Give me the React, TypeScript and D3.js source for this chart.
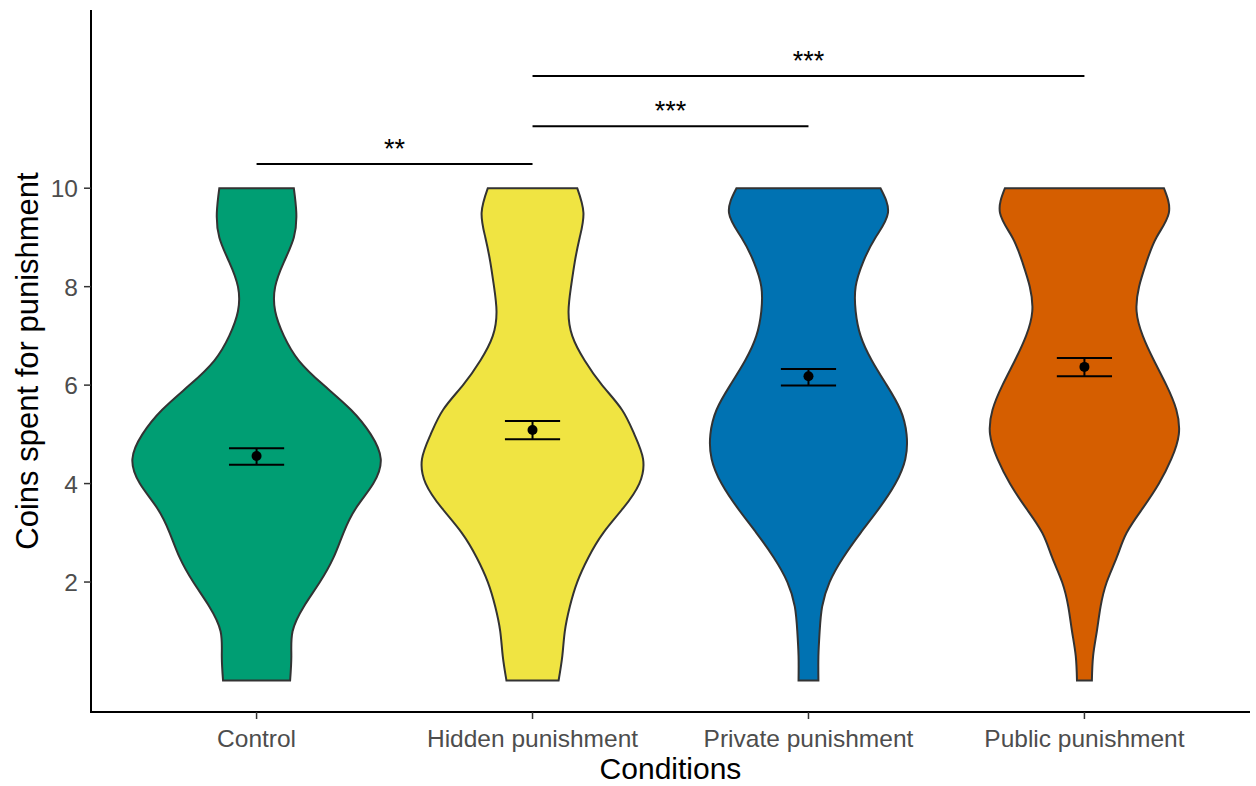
import React from "react";
import * as d3 from "d3";

// categories and fill colours
const conditions = ["Control", "Hidden punishment", "Private punishment", "Public punishment"];
const fills = ["#009E73", "#F0E442", "#0072B2", "#D55E00"];

// density grid (coins) and relative density
const densityLevels = [0, 0.5, 1, 1.5, 2, 2.5, 3, 3.5, 4, 4.5, 5, 5.5, 6, 6.5, 7, 7.5, 8, 8.5, 9, 9.5, 10];
const controlDensity = [0.27, 0.28, 0.29, 0.38, 0.51, 0.62, 0.7, 0.8, 0.94, 1.0, 0.92, 0.76, 0.54, 0.34, 0.22, 0.15, 0.15, 0.22, 0.3, 0.32, 0.3];
const hiddenDensity = [0.21, 0.24, 0.26, 0.3, 0.36, 0.45, 0.57, 0.73, 0.86, 0.89, 0.82, 0.72, 0.56, 0.42, 0.32, 0.29, 0.31, 0.34, 0.38, 0.41, 0.36];
const privateDensity = [0.08, 0.08, 0.09, 0.11, 0.17, 0.28, 0.42, 0.57, 0.7, 0.78, 0.79, 0.74, 0.63, 0.51, 0.42, 0.38, 0.38, 0.44, 0.54, 0.64, 0.58];
const publicDensity = [0.06, 0.07, 0.1, 0.13, 0.18, 0.26, 0.34, 0.47, 0.6, 0.7, 0.76, 0.74, 0.66, 0.56, 0.47, 0.42, 0.44, 0.5, 0.58, 0.68, 0.64];

// means and standard errors
const means = [4.56, 5.09, 6.18, 6.37];
const seLow = [4.38, 4.9, 5.99, 6.18];
const seHigh = [4.72, 5.27, 6.33, 6.55];

// significance brackets
const sigFrom = ["Control", "Hidden punishment", "Hidden punishment"];
const sigTo = ["Hidden punishment", "Private punishment", "Public punishment"];
const sigY = [10.49, 11.26, 12.28];
const sigLabel = ["**", "***", "***"];

const yTicks = [2, 4, 6, 8, 10];

const W = 1256;
const H = 786;
const left = 91;
const right = 1250;
const top = 10;
const bottom = 712;
const font = "'Liberation Sans', Arial, sans-serif";

export default function App() {
  const densities = [controlDensity, hiddenDensity, privateDensity, publicDensity];

  const x = d3.scaleBand().domain(conditions).range([left, right]).paddingInner(0).paddingOuter(0.1);
  const cx = (c: string) => (x(c) as number) + x.bandwidth() / 2;
  const y = d3.scaleLinear().domain([-0.64, 13.62]).range([bottom, top]);
  const w = d3.scaleLinear().domain([0, 1]).range([0, x.step() * 0.45]);
  const capHalf = x.step() * 0.1;

  return (
    <svg width={W} height={H} style={{ position: "absolute", left: 0, top: 0, background: "#fff" }}>
      {conditions.map((c, i) => {
        const pts = densityLevels.map((v, j) => ({ v, d: densities[i][j] }));
        const area = d3
          .area<{ v: number; d: number }>()
          .y((p) => y(p.v))
          .x0((p) => cx(c) - w(p.d))
          .x1((p) => cx(c) + w(p.d))
          .curve(d3.curveNatural);
        return <path key={c} d={area(pts) || ""} fill={fills[i]} stroke="#333333" strokeWidth={2} />;
      })}

      {conditions.map((c, i) => (
        <g key={"se" + c} stroke="#000" strokeWidth={2}>
          <line x1={cx(c) - capHalf} x2={cx(c) + capHalf} y1={y(seHigh[i])} y2={y(seHigh[i])} />
          <line x1={cx(c) - capHalf} x2={cx(c) + capHalf} y1={y(seLow[i])} y2={y(seLow[i])} />
          <line x1={cx(c)} x2={cx(c)} y1={y(seHigh[i])} y2={y(seLow[i])} />
          <circle cx={cx(c)} cy={y(means[i])} r={5} fill="#000" stroke="none" />
        </g>
      ))}

      {sigFrom.map((f, i) => (
        <g key={"sig" + i}>
          <line x1={cx(f)} x2={cx(sigTo[i])} y1={y(sigY[i])} y2={y(sigY[i])} stroke="#000" strokeWidth={2} />
          <text
            x={(cx(f) + cx(sigTo[i])) / 2}
            y={y(sigY[i]) - 6}
            textAnchor="middle"
            fontFamily={font}
            fontSize={27}
            fill="#000"
          >
            {sigLabel[i]}
          </text>
        </g>
      ))}

      {/* axes */}
      <line x1={left} x2={left} y1={top} y2={bottom + 1} stroke="#000" strokeWidth={2} />
      <line x1={left - 1} x2={right} y1={bottom} y2={bottom} stroke="#000" strokeWidth={2} />
      {yTicks.map((t) => (
        <g key={"yt" + t}>
          <line x1={left - 7} x2={left} y1={y(t)} y2={y(t)} stroke="#333" strokeWidth={1.5} />
          <text x={left - 13} y={y(t) + 9} textAnchor="end" fontFamily={font} fontSize={24.5} fill="#4d4d4d">
            {t}
          </text>
        </g>
      ))}
      {conditions.map((c) => (
        <g key={"xt" + c}>
          <line x1={cx(c)} x2={cx(c)} y1={bottom} y2={bottom + 7} stroke="#333" strokeWidth={1.5} />
          <text x={cx(c)} y={bottom + 35} textAnchor="middle" fontFamily={font} fontSize={24.5} fill="#4d4d4d">
            {c}
          </text>
        </g>
      ))}
      <text x={(left + right) / 2} y={779} textAnchor="middle" fontFamily={font} fontSize={30} fill="#000">
        Conditions
      </text>
      <text
        transform={`translate(38, ${(top + bottom) / 2}) rotate(-90)`}
        textAnchor="middle"
        fontFamily={font}
        fontSize={31}
        fill="#000"
      >
        Coins spent for punishment
      </text>
    </svg>
  );
}
